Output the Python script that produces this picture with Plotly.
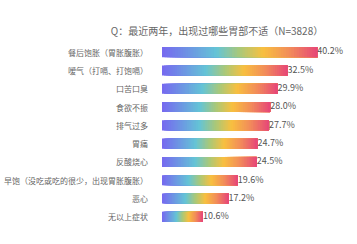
import plotly.graph_objects as go
import numpy as np

categories = ["餐后饱胀（胃胀腹胀）", "嗳气（打嗝、打饱嗝）", "口苦口臭", "食欲不振", "排气过多",
              "胃痛", "反酸烧心", "早饱（没吃或吃的很少，出现胃胀腹胀）", "恶心", "无以上症状"]
values = [40.2, 32.5, 29.9, 28.0, 27.7, 24.7, 24.5, 19.6, 17.2, 10.6]
value_labels = [f"{v:.1f}%" for v in values]
title_text = "Q：最近两年，出现过哪些胃部不适（N=3828）"

gradient_stops = [(0.0, (118, 104, 240)), (0.35, (100, 196, 214)), (0.5, (170, 200, 120)),
                  (0.65, (248, 192, 64)), (0.82, (242, 140, 90)), (1.0, (230, 70, 120))]

def color_at(t):
    for (p0, c0), (p1, c1) in zip(gradient_stops[:-1], gradient_stops[1:]):
        if p0 <= t <= p1:
            f = (t - p0) / (p1 - p0)
            c = [round(a + (b - a) * f) for a, b in zip(c0, c1)]
            return f"rgb({c[0]},{c[1]},{c[2]})"
    c = gradient_stops[-1][1]
    return f"rgb({c[0]},{c[1]},{c[2]})"

N = 60
vals = np.array(values)
fig = go.Figure()
for k in range(N):
    # each layer spans from its start to the bar end; later layers overlay earlier ones
    fig.add_trace(go.Bar(
        y=categories, x=vals * (N - k) / N, base=vals * k / N, orientation="h",
        marker=dict(color=color_at((k + 0.5) / N), line=dict(width=0)),
        width=0.55, showlegend=False, hoverinfo="skip"))

fig.add_trace(go.Scatter(
    y=categories, x=values, mode="text", text=value_labels,
    textposition="middle right", textfont=dict(size=9, color="#555555"),
    showlegend=False, cliponaxis=False))

for cat in categories:
    fig.add_annotation(x=0, y=cat, xref="x", yref="y", text=cat, showarrow=False,
                       xanchor="right", xshift=-12, font=dict(size=8, color="#666666"))

fig.update_layout(
    width=357, height=244, barmode="overlay",
    margin=dict(l=162, r=30, t=43, b=18),
    plot_bgcolor="white", paper_bgcolor="white",
    font=dict(family="Noto Sans CJK SC", color="#666666"),
    title=dict(text=title_text, x=217/357, xanchor="center", y=1 - 31/244, yanchor="middle",
               font=dict(size=10, color="#666666")),
    xaxis=dict(range=[0, 42.7], visible=False),
    yaxis=dict(autorange="reversed", showgrid=False, zeroline=False, showline=False,
               showticklabels=False),
)
fig.write_html("out.html")
